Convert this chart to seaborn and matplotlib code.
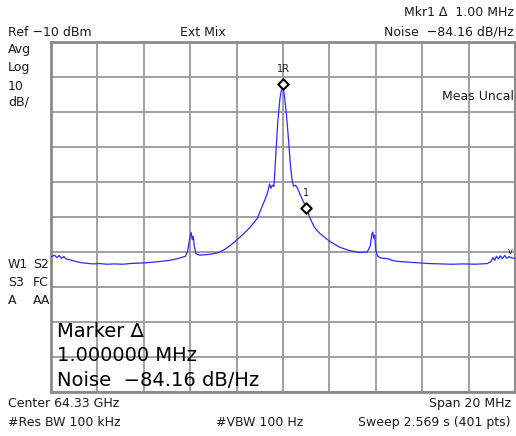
import numpy as np
import pandas as pd
import matplotlib
matplotlib.use("Agg")
import matplotlib.pyplot as plt
import seaborn as sns

# trace: offset from center (MHz), level (dBm)
offset_mhz = [-10.00, -9.85, -9.75, -9.65, -9.55, -9.45, -9.35, -9.20, -9.00, -8.75,
              -8.50, -8.20, -7.90, -7.60, -7.25, -6.90, -6.60, -6.30, -5.95, -5.60,
              -5.30, -4.90, -4.60, -4.40, -4.20, -4.10, -4.02, -3.96, -3.91, -3.87,
              -3.82, -3.75, -3.60, -3.35, -3.10, -2.80, -2.55, -2.30, -2.00, -1.70,
              -1.40, -1.10, -0.90, -0.75, -0.66, -0.58, -0.52, -0.46, -0.39, -0.30,
              -0.22, -0.13, -0.06, 0.00, 0.06, 0.15, 0.24, 0.32, 0.39, 0.45,
              0.54, 0.62, 0.71, 0.84, 1.00, 1.14, 1.35, 1.57, 2.00, 2.43,
              2.86, 3.29, 3.63, 3.76, 3.83, 3.87, 3.91, 3.95, 4.00, 4.08,
              4.20, 4.40, 4.60, 4.75, 5.00, 5.40, 5.85, 6.30, 6.80, 7.30,
              7.80, 8.30, 8.80, 8.95, 9.05, 9.12, 9.20, 9.28, 9.36, 9.45,
              9.55, 9.65, 9.75, 9.85, 10.00]
level_dbm = [-71.4, -70.9, -71.6, -71.0, -71.8, -71.3, -72.0, -72.2, -72.6, -73.0,
             -73.2, -73.4, -73.3, -73.5, -73.4, -73.5, -73.3, -73.2, -73.1, -72.9,
             -72.7, -72.4, -72.0, -71.6, -71.2, -69.5, -66.0, -64.4, -66.5, -65.5,
             -68.5, -70.5, -70.9, -70.8, -70.6, -70.2, -69.4, -68.3, -66.6, -64.8,
             -62.8, -60.3, -57.0, -54.6, -52.9, -50.6, -51.8, -50.9, -51.3, -41.0,
             -32.3, -26.1, -23.5, -22.9, -25.2, -30.9, -38.1, -45.2, -49.4, -51.2,
             -50.9, -51.7, -53.1, -55.1, -57.2, -60.0, -62.9, -64.6, -66.9, -68.6,
             -69.6, -70.1, -70.0, -68.3, -64.9, -64.3, -66.0, -65.2, -69.5, -71.2,
             -71.7, -71.8, -72.1, -72.5, -72.7, -72.9, -73.1, -73.3, -73.4, -73.5,
             -73.4, -73.5, -73.3, -72.8, -71.6, -72.4, -71.2, -72.0, -71.1, -71.9,
             -71.0, -71.8, -71.3, -71.7, -71.8]

# markers
mkr_offset = [0.0, 1.0]
mkr_level = [-22.0, -57.3]
mkr_label = ['1R', '1']

sns.set_style('white')
plt.rcParams['font.family'] = ['DejaVu Sans']

W, H = 516, 436
fig = plt.figure(figsize=(W / 100, H / 100), dpi=100)
ax = fig.add_axes([51 / W, (H - 392) / H, 464 / W, 350 / H])

df = pd.DataFrame({'f': offset_mhz, 'p': level_dbm})
sns.lineplot(data=df, x='f', y='p', ax=ax, color='#2b2bff', lw=0.9, zorder=3)

ax.set_xlim(-10, 10)
ax.set_ylim(-110, -10)
ax.set_xticks(np.arange(-10, 11, 2))
ax.set_yticks(np.arange(-110, -9, 10))
ax.grid(True, color='#a0a0a0', lw=1.4)
ax.tick_params(length=0, labelbottom=False, labelleft=False)
ax.set_xlabel('')
ax.set_ylabel('')
for s in ax.spines.values():
    s.set_color('#8a8a8a')
    s.set_linewidth(2.0)

ax.scatter(mkr_offset, mkr_level, marker='D', s=28, facecolor='white',
           edgecolor='black', linewidth=1.5, zorder=5)
for mx, my, lab in zip(mkr_offset, mkr_level, mkr_label):
    ax.annotate(lab, (mx, my), xytext=(0, 7), textcoords='offset points',
                ha='center', va='bottom', fontsize=7, color='#202020')


def txt(x, y, s, **kw):
    kw.setdefault('fontsize', 9)
    kw.setdefault('va', 'center')
    kw.setdefault('color', '#1a1a1a')
    fig.text(x / W, 1 - y / H, s, **kw)


txt(8, 32, 'Ref \u221210 dBm')
txt(180, 32, 'Ext Mix')
txt(514, 12, 'Mkr1 \u2206  1.00 MHz', ha='right')
txt(514, 32, 'Noise  \u221284.16 dB/Hz', ha='right')
txt(8, 50, 'Avg')
txt(8, 68, 'Log')
txt(8, 86, '10')
txt(8, 102, 'dB/')
txt(514, 97, 'Meas Uncal', ha='right')
txt(8, 265, 'W1')
txt(33, 265, 'S2')
txt(8, 282, 'S3')
txt(33, 282, 'FC')
txt(8, 300, 'A')
txt(33, 300, 'AA')
txt(510, 251, 'v', fontsize=6, ha='center')

txt(57, 337, 'Marker \u2206', fontsize=14, va='baseline', color='black')
txt(57, 361, '1.000000 MHz', fontsize=14, va='baseline', color='black')
txt(57, 386, 'Noise  \u221284.16 dB/Hz', fontsize=14, va='baseline', color='black')

txt(8, 403, 'Center 64.33 GHz')
txt(8, 422, '#Res BW 100 kHz')
txt(216, 422, '#VBW 100 Hz')
txt(511, 403, 'Span 20 MHz', ha='right')
txt(511, 422, 'Sweep 2.569 s (401 pts)', ha='right')

fig.savefig('out.png', dpi=100, facecolor='white')
